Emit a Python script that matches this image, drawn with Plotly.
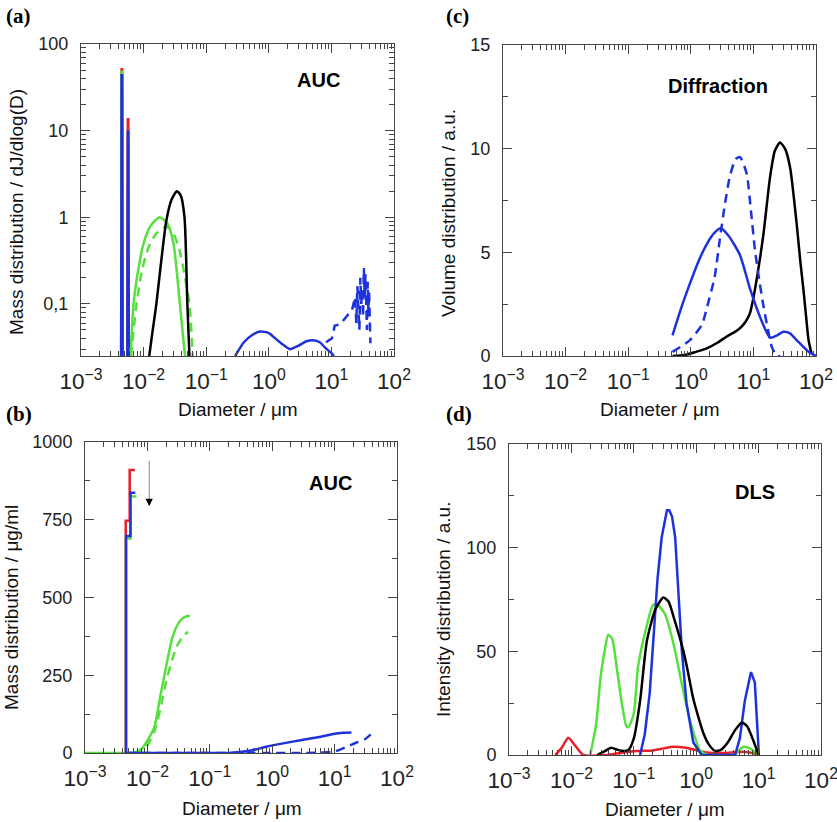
import plotly.graph_objects as go
import numpy as np

# ---------------- DATA ----------------
# Panel (a): AUC, mass distribution dJ/dlog(D) (log-log)
a_spike1_x = [0.00442, 0.00450, 0.00458]
a_spike1_red = [0.02, 53, 0.02]
a_spike1_green = [0.02, 49, 0.02]
a_spike1_blue = [0.02, 45, 0.02]
a_spike2_x = [0.00555, 0.00565, 0.00575]
a_spike2_red = [0.02, 14, 0.02]
a_spike2_blue = [0.02, 10, 0.02]

a_green_x = [0.0062, 0.0069, 0.008, 0.01, 0.013, 0.018, 0.024, 0.03, 0.038, 0.043, 0.046]
a_green_y = [0.025, 0.1, 0.22, 0.5, 0.8, 1.0, 0.85, 0.5, 0.1, 0.04, 0.025]
a_green_d_x = [0.0063, 0.0077, 0.0095, 0.012, 0.016, 0.023, 0.03, 0.038, 0.046, 0.054, 0.061]
a_green_d_y = [0.025, 0.1, 0.25, 0.45, 0.65, 0.78, 0.65, 0.4, 0.2, 0.1, 0.025]
a_black_x = [0.0123, 0.014, 0.016, 0.019, 0.023, 0.028, 0.034, 0.039, 0.045, 0.05, 0.054]
a_black_y = [0.025, 0.05, 0.1, 0.3, 0.9, 1.6, 2.0, 1.8, 1.0, 0.1, 0.025]
a_blue_x = [0.29, 0.4, 0.55, 0.72, 1.0, 1.5, 2.2, 3.0, 4.0, 5.1, 6.5, 8.0, 10.0, 11.0]
a_blue_y = [0.025, 0.036, 0.044, 0.048, 0.046, 0.036, 0.030, 0.033, 0.037, 0.038, 0.036, 0.031, 0.027, 0.025]
a_blue_d_x = [8.2, 10.2, 11.3, 13.8, 18.7, 21, 24, 25, 26, 27, 28, 29, 30, 31, 32, 33, 34, 35, 36, 37, 38, 39, 40, 41, 42]
a_blue_d_y = [0.036, 0.040, 0.056, 0.058, 0.076, 0.081, 0.12, 0.06, 0.16, 0.09, 0.05, 0.2, 0.1, 0.14, 0.07,
              0.26, 0.12, 0.22, 0.09, 0.05, 0.18, 0.08, 0.14, 0.06, 0.035]

# Panel (b): AUC, cumulative mass distribution (ug/ml)
b_red_x = [0.00450, 0.00450, 0.00520, 0.00520, 0.00630]
b_red_y = [0, 747, 747, 910, 910]
b_greenstep_x = [0.00455, 0.00455, 0.00535, 0.00535, 0.00665]
b_greenstep_y = [0, 690, 690, 825, 825]
b_blue_step_x = [0.00455, 0.00455, 0.00535, 0.00535, 0.00640]
b_blue_step_y = [0, 698, 698, 837, 837]
b_green_x = [0.001, 0.0055, 0.0063, 0.008, 0.01, 0.013, 0.016, 0.019, 0.0245, 0.03, 0.036, 0.043, 0.048]
b_green_y = [0, 0, 1, 12, 40, 85, 180, 256, 363, 410, 432, 440, 440]
b_green_d_x = [0.006, 0.008, 0.01, 0.013, 0.016, 0.02, 0.025, 0.03, 0.037, 0.045]
b_green_d_y = [0, 5, 25, 70, 140, 230, 300, 345, 375, 390]
b_blue_x = [0.0046, 0.15, 0.25, 0.44, 0.8, 1.5, 3, 6, 9.5, 14, 18.6]
b_blue_y = [0, 0, 2, 7, 20, 31, 42, 52, 61, 65, 66]
b_blue_d_x = [0.0046, 1, 3, 5, 7, 10, 15.5, 22, 31, 42]
b_blue_d_y = [0, 0, 0, 0.5, 2, 5, 20, 33, 45, 68]
b_arrow_x = 0.0107
b_arrow_from = 945
b_arrow_to = 794

# Panel (c): Diffraction, volume distribution
c_blue_x = [0.51, 0.7, 0.97, 1.3, 1.8, 2.4, 3.0, 4.0, 6.1, 8.8, 12.7, 18.5, 24, 30, 38, 49, 76, 100]
c_blue_y = [1.0, 2.3, 3.5, 4.5, 5.4, 5.95, 6.16, 5.8, 4.87, 3.26, 1.9, 0.88, 1.0, 1.17, 1.1, 0.77, 0.2, 0.0]
c_blue_d_x = [0.51, 0.97, 1.5, 1.8, 2.4, 2.9, 3.5, 4.2, 5.2, 6.1, 7.8, 9, 10.6, 12.5, 14.5, 17, 19.6, 23.6, 27]
c_blue_d_y = [0.2, 0.77, 1.5, 2.3, 3.8, 5.6, 7.3, 8.65, 9.5, 9.6, 8.8, 7.2, 5.1, 3.6, 2.4, 1.3, 0.45, 0, 0]
c_black_x = [0.51, 0.8, 1.2, 1.8, 2.7, 3.7, 5, 6.1, 7.5, 8.8, 10, 12, 14.5, 18.5, 22, 26.6, 32, 38.5, 49, 56, 63, 70, 76, 85]
c_black_y = [0, 0.05, 0.2, 0.37, 0.65, 0.93, 1.15, 1.34, 1.65, 2.06, 2.8, 4.2, 5.9, 8.65, 9.9, 10.3, 10.0, 9.1, 6.4, 4.6, 3.2, 1.8, 0.77, 0.1]

# Panel (d): DLS, intensity distribution
d_red_x = [0.0055, 0.007, 0.0089, 0.0115, 0.0155, 0.037, 0.06, 0.112, 0.2, 0.3, 0.43, 0.65, 1.0, 1.5, 3, 5.7, 8, 10]
d_red_y = [0, 3.5, 8.3, 4.5, 0, 0, 1, 1.9, 2.2, 3.2, 4.0, 3.6, 2.3, 1.2, 1, 1.6, 1, 0]
d_green_x = [0.02, 0.025, 0.029, 0.034, 0.039, 0.045, 0.054, 0.065, 0.076, 0.082, 0.1, 0.117, 0.16, 0.2, 0.23,
             0.315, 0.43, 0.62, 0.79, 1.15, 1.5, 4, 5.7, 7.5, 10]
d_green_y = [0, 15, 36, 50, 58, 56, 41, 24, 14, 13.4, 20, 42.6, 62, 72, 73, 68, 54, 31, 17, 2.4, 0, 0, 4, 3, 0]
d_blue_x = [0.126, 0.15, 0.18, 0.2, 0.24, 0.28, 0.34, 0.37, 0.41, 0.46, 0.52, 0.59, 0.7, 0.9, 1.22, 4.2, 5, 6, 7.55, 8.7, 10.1]
d_blue_y = [0, 10, 30, 50, 85, 105, 118, 118, 115, 105, 80, 50, 25, 6, 0, 0, 8, 26, 40, 35, 0]
d_black_x = [0.026, 0.035, 0.043, 0.055, 0.065, 0.082, 0.1, 0.126, 0.162, 0.22, 0.297, 0.36, 0.45, 0.6, 0.71,
             0.9, 1.3, 1.6, 2.0, 2.5, 3.2, 4.2, 5.4, 6.5, 8, 10]
d_black_y = [0, 2, 3.5, 2.5, 2, 2.4, 8, 26, 55, 70, 76, 74, 65, 52, 42.5, 27, 10.6, 5, 2, 2.5, 6, 12, 15.6, 14, 8, 0]

# ---------------- STYLE ----------------
W, H = 860, 822   # figure a bit wider than the 837 px window so the last tick label is kept
RED = "#e8202a"
GREEN = "#55e03c"
BLUE = "#1e32dc"
BLACK = "#000000"
LW = 2.5
DASH = "9px,6px"
FONT = "Liberation Sans, Arial, sans-serif"


def px_dom_x(x0, x1):
    return [x0 / W, x1 / W]


def px_dom_y(y0, y1):
    return [1 - y1 / H, 1 - y0 / H]


fig = go.Figure()


def add(x, y, color, xa, ya, dash=None, shape="spline", width=LW):
    fig.add_trace(go.Scatter(x=x, y=y, mode="lines", xaxis=xa, yaxis=ya,
                             line=dict(color=color, width=width, dash=dash,
                                       shape=shape, smoothing=0.6 if shape == "spline" else None),
                             showlegend=False, hoverinfo="skip"))


# (a)
add(a_spike1_x, a_spike1_red, RED, "x", "y", shape="linear", width=3)
add(a_spike1_x, a_spike1_green, GREEN, "x", "y", shape="linear", width=3)
add(a_spike1_x, a_spike1_blue, BLUE, "x", "y", shape="linear", width=3)
add(a_spike2_x, a_spike2_red, RED, "x", "y", shape="linear", width=3)
add(a_spike2_x, a_spike2_blue, BLUE, "x", "y", shape="linear", width=3)
add(a_green_x, a_green_y, GREEN, "x", "y")
add(a_green_d_x, a_green_d_y, GREEN, "x", "y", dash=DASH)
add(a_black_x, a_black_y, BLACK, "x", "y")
add(a_blue_x, a_blue_y, BLUE, "x", "y")
add(a_blue_d_x, a_blue_d_y, BLUE, "x", "y", dash=DASH, shape="linear")

# (b)
add(b_green_x, b_green_y, GREEN, "x2", "y2")
add(b_green_d_x, b_green_d_y, GREEN, "x2", "y2", dash=DASH)
add(b_red_x, b_red_y, RED, "x2", "y2", shape="linear")
add(b_greenstep_x, b_greenstep_y, GREEN, "x2", "y2", shape="linear")
add(b_blue_step_x, b_blue_step_y, BLUE, "x2", "y2", shape="linear")
add(b_blue_x, b_blue_y, BLUE, "x2", "y2")
add(b_blue_d_x, b_blue_d_y, BLUE, "x2", "y2", dash=DASH)

# (c)
add(c_black_x, c_black_y, BLACK, "x3", "y3")
add(c_blue_x, c_blue_y, BLUE, "x3", "y3")
add(c_blue_d_x, c_blue_d_y, BLUE, "x3", "y3", dash=DASH)

# (d)
add(d_red_x, d_red_y, RED, "x4", "y4")
add(d_green_x, d_green_y, GREEN, "x4", "y4")
add(d_blue_x, d_blue_y, BLUE, "x4", "y4", shape="linear")
add(d_black_x, d_black_y, BLACK, "x4", "y4")

AX = "#444444"
tickfont = dict(family=FONT, size=18, color="#222")
LOGMINOR = dict(ticks="inside", ticklen=5, tickcolor=AX, tickwidth=1, dtick="D1", showgrid=False)
XALIAS = {"1": "10<sup>0</sup>", "10": "10<sup>1</sup>"}


def xaxis(dom):
    return dict(type="log", range=[-3, 2], dtick=1, exponentformat="power", showexponent="all",
                labelalias=XALIAS,
                domain=dom, showline=True, linecolor=AX, linewidth=1, mirror="ticks",
                ticks="inside", ticklen=9, tickcolor=AX, tickwidth=1, minor=LOGMINOR,
                showgrid=False, zeroline=False, tickfont=tickfont, ticklabelstandoff=6,
                automargin=False)


def ylin(dom, rng, dt, mdt):
    return dict(range=rng, dtick=dt, domain=dom, showline=True, linecolor=AX, linewidth=1,
                mirror="ticks", ticks="inside", ticklen=9, tickcolor=AX, tickwidth=1,
                minor=dict(ticks="inside", ticklen=5, tickcolor=AX, dtick=mdt, showgrid=False),
                showgrid=False, zeroline=False, tickfont=tickfont, ticklabelstandoff=8,
                automargin=False)


ya = dict(type="log", range=[np.log10(0.025), 2], dtick=1, labelalias={"0.1": "0,1"},
          domain=px_dom_y(44, 356), showline=True,
          linecolor=AX, linewidth=1, mirror="ticks", ticks="inside", ticklen=9, tickcolor=AX,
          minor=LOGMINOR, showgrid=False, zeroline=False, tickfont=tickfont,
          ticklabelstandoff=8, automargin=False)

fig.update_layout(
    width=W, height=H, margin=dict(l=0, r=0, t=0, b=0, autoexpand=False),
    paper_bgcolor="white", plot_bgcolor="white",
    xaxis=dict(xaxis(px_dom_x(81, 394)), anchor="y"),
    yaxis=dict(ya, anchor="x"),
    xaxis2=dict(xaxis(px_dom_x(85, 397)), anchor="y2"),
    yaxis2=dict(ylin(px_dom_y(442, 753), [0, 1000], 250, 125), anchor="x2"),
    xaxis3=dict(xaxis(px_dom_x(503, 816)), anchor="y3"),
    yaxis3=dict(ylin(px_dom_y(45, 356), [0, 15], 5, 2.5), anchor="x3"),
    xaxis4=dict(xaxis(px_dom_x(509, 821)), anchor="y4"),
    yaxis4=dict(ylin(px_dom_y(444, 755), [0, 150], 50, 25), anchor="x4"),
)

ann = []
titlefont = dict(family=FONT, size=19, color="#111")
boldfont = dict(family=FONT, size=20, color="#000")
labfont = dict(family="Liberation Serif, Times New Roman, serif", size=21, color="#000")


def pa(text, x, y, font, angle=0, xanchor="center"):
    ann.append(dict(text=text, x=x / W, y=1 - y / H, xref="paper", yref="paper", showarrow=False,
                    font=font, textangle=angle, xanchor=xanchor, yanchor="middle"))


pa("<b>(a)</b>", 4, 16, labfont, xanchor="left")
pa("<b>(b)</b>", 4, 414, labfont, xanchor="left")
pa("<b>(c)</b>", 444, 16, labfont, xanchor="left")
pa("<b>(d)</b>", 444, 414, labfont, xanchor="left")
pa("<b>AUC</b>", 318, 80, boldfont)
pa("<b>Diffraction</b>", 718, 86, boldfont)
pa("<b>AUC</b>", 330, 483, boldfont)
pa("<b>DLS</b>", 755, 492, boldfont)
pa("Diameter / μm", 238, 409, titlefont)
pa("Diameter / μm", 660, 409, titlefont)
pa("Diameter / μm", 242, 808, titlefont)
pa("Diameter / μm", 665, 809, titlefont)
pa("Mass distribution / dJ/dlog(D)", 16, 212, titlefont, angle=-90)
pa("Mass distribution / μg/ml", 11, 608, titlefont, angle=-90)
pa("Volume distribution / a.u.", 449, 213, titlefont, angle=-90)
pa("Intensity distribution / a.u.", 443, 610, titlefont, angle=-90)

# arrow in (b)
ann.append(dict(x=np.log10(b_arrow_x), y=b_arrow_to, ax=np.log10(b_arrow_x), ay=b_arrow_from,
                xref="x2", yref="y2", axref="x2", ayref="y2", showarrow=True, text="",
                arrowhead=2, arrowsize=1.2, arrowwidth=1, arrowcolor="#888888"))
ann.append(dict(x=np.log10(b_arrow_x), y=b_arrow_to, ax=0, ay=-6,
                xref="x2", yref="y2", showarrow=True, text="",
                arrowhead=2, arrowsize=1.2, arrowwidth=1.2, arrowcolor="#000000"))

fig.update_layout(annotations=ann)
fig.write_html("out.html", config={"displayModeBar": False},
               post_script="document.body.style.margin='0px';document.body.style.padding='0px';"
                           "document.body.style.overflow='hidden';"
                           "document.documentElement.style.overflow='hidden';")
